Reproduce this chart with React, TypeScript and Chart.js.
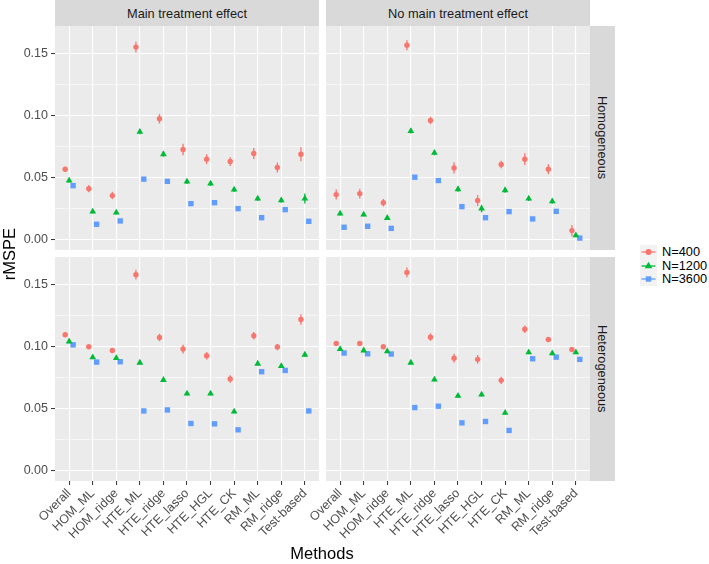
import React, { useEffect, useRef } from 'react';
import { Chart, registerables } from 'chart.js';

Chart.register(...registerables);

// ---------- data ----------
const methods = ['Overall', 'HOM_ML', 'HOM_ridge', 'HTE_ML', 'HTE_ridge', 'HTE_lasso', 'HTE_HGL', 'HTE_CK', 'RM_ML', 'RM_ridge', 'Test-based'];
const columnLabels = ['Main treatment effect', 'No main treatment effect'];
const rowLabels = ['Homogeneous', 'Heterogeneous'];
const seriesLabels = ['N=400', 'N=1200', 'N=3600'];
const yMajorTicks = [0, 0.05, 0.1, 0.15];
const yMinorTicks = [0.025, 0.075, 0.125];

// Main treatment effect / Homogeneous
const mainHom400 = [0.0567, 0.0411, 0.0355, 0.155, 0.0973, 0.0726, 0.0648, 0.0629, 0.0694, 0.0581, 0.0688];
const mainHom1200 = [0.0476, 0.0226, 0.0218, 0.0868, 0.0688, 0.0468, 0.0452, 0.0403, 0.0331, 0.0317, 0.0331];
const mainHom3600 = [0.0435, 0.0124, 0.0151, 0.0487, 0.047, 0.029, 0.0298, 0.025, 0.0177, 0.0242, 0.0148];
const mainHomErr400 = [0.002, 0.003, 0.003, 0.0043, 0.0038, 0.0046, 0.004, 0.0035, 0.0045, 0.004, 0.0056];
const mainHomErr1200 = [0.0015, 0.0015, 0.0015, 0.002, 0.002, 0.002, 0.002, 0.002, 0.002, 0.002, 0.004];
const mainHomErr3600 = [0.001, 0.001, 0.001, 0.001, 0.001, 0.001, 0.001, 0.001, 0.001, 0.001, 0.001];

// No main treatment effect / Homogeneous
const noMainHom400 = [0.0363, 0.0371, 0.0298, 0.1565, 0.096, 0.0578, 0.0315, 0.0605, 0.0648, 0.0567, 0.0073];
const noMainHom1200 = [0.021, 0.0202, 0.0175, 0.0874, 0.0699, 0.0406, 0.025, 0.0398, 0.0331, 0.0309, 0.0035];
const noMainHom3600 = [0.01, 0.0108, 0.0091, 0.0503, 0.0476, 0.0266, 0.0177, 0.0226, 0.0167, 0.0228, 0.0013];
const noMainHomErr400 = [0.004, 0.004, 0.003, 0.004, 0.003, 0.0045, 0.0045, 0.003, 0.0047, 0.004, 0.0045];
const noMainHomErr1200 = [0.0015, 0.0015, 0.0015, 0.002, 0.002, 0.002, 0.003, 0.002, 0.002, 0.002, 0.0015];
const noMainHomErr3600 = [0.001, 0.001, 0.001, 0.001, 0.001, 0.001, 0.001, 0.001, 0.001, 0.001, 0.001];

// Main treatment effect / Heterogeneous
const mainHet400 = [0.1094, 0.0997, 0.0968, 0.1578, 0.1072, 0.0979, 0.0925, 0.0738, 0.1086, 0.0995, 0.1217];
const mainHet1200 = [0.104, 0.0912, 0.0906, 0.0869, 0.073, 0.062, 0.062, 0.0476, 0.0861, 0.0842, 0.0933];
const mainHet3600 = [0.1013, 0.0874, 0.0877, 0.0481, 0.0489, 0.038, 0.0377, 0.0329, 0.0797, 0.0807, 0.0481];
const mainHetErr400 = [0.0015, 0.0015, 0.0015, 0.004, 0.003, 0.0035, 0.003, 0.003, 0.003, 0.0025, 0.0043];
const mainHetErr1200 = [0.0015, 0.0015, 0.0015, 0.0015, 0.0015, 0.0015, 0.0015, 0.0015, 0.0015, 0.0015, 0.0015];
const mainHetErr3600 = [0.001, 0.001, 0.001, 0.001, 0.001, 0.001, 0.001, 0.001, 0.001, 0.001, 0.001];

// No main treatment effect / Heterogeneous
const noMainHet400 = [0.1024, 0.1024, 0.0997, 0.1596, 0.1075, 0.0906, 0.0896, 0.0727, 0.1139, 0.1056, 0.0976];
const noMainHet1200 = [0.0979, 0.0968, 0.096, 0.0869, 0.0733, 0.0602, 0.0612, 0.0465, 0.0952, 0.0944, 0.0952];
const noMainHet3600 = [0.0947, 0.0941, 0.0939, 0.0508, 0.0519, 0.0385, 0.0396, 0.0324, 0.0901, 0.0914, 0.0896];
const noMainHetErr400 = [0.0015, 0.0015, 0.0015, 0.004, 0.003, 0.0035, 0.0035, 0.003, 0.003, 0.002, 0.0015];
const noMainHetErr1200 = [0.0015, 0.0015, 0.0015, 0.0015, 0.0015, 0.0015, 0.0015, 0.0015, 0.0015, 0.0015, 0.0015];
const noMainHetErr3600 = [0.001, 0.001, 0.001, 0.001, 0.001, 0.001, 0.001, 0.001, 0.001, 0.001, 0.001];

// ---------- styling ----------
const FONT = "'Liberation Sans', Arial, Helvetica, sans-serif";
const COLORS = ['#F8766D', '#00BA38', '#619CFF'];
const SHAPES = ['circle', 'triangle', 'rect'];
const RADII = [2.7, 3.9, 3.8];
const DODGE = [-0.167, 0, 0.167];
const Y_MIN = -0.0083;
const Y_MAX = 0.172;

const PANEL_W = 264;
const PANEL_H = 224;
const COL_X = [55, 326];
const ROW_Y = [26, 257];
const Y_AXIS_W = 55;
const X_AXIS_H = 75;
const RIGHT_PAD = 40;

const panelBgPlugin = {
  id: 'panelBg',
  beforeDraw(chart: any) {
    const { ctx, chartArea } = chart;
    ctx.save();
    ctx.fillStyle = '#EBEBEB';
    ctx.fillRect(chartArea.left, chartArea.top, chartArea.right - chartArea.left, chartArea.bottom - chartArea.top);
    ctx.restore();
  },
};

const errorBarPlugin = {
  id: 'errorBars',
  beforeDatasetDraw(chart: any, args: any) {
    const ds = chart.data.datasets[args.index];
    const yScale = chart.scales.y;
    const ctx = chart.ctx;
    ctx.save();
    ctx.strokeStyle = ds.borderColor;
    ctx.lineWidth = 1.3;
    args.meta.data.forEach((pt: any, i: number) => {
      const d = ds.data[i];
      ctx.beginPath();
      ctx.moveTo(pt.x, yScale.getPixelForValue(d.y - d.err));
      ctx.lineTo(pt.x, yScale.getPixelForValue(d.y + d.err));
      ctx.stroke();
    });
    ctx.restore();
  },
};

const isMajor = (v: number) => yMajorTicks.some((m) => Math.abs(m - v) < 1e-9);

type PanelProps = {
  values: number[][];
  errors: number[][];
  col: number;
  row: number;
};

function Panel({ values, errors, col, row }: PanelProps) {
  const ref = useRef<HTMLCanvasElement>(null);
  const showY = col === 0;
  const showX = row === 1;
  const padLeft = showY ? 0 : RIGHT_PAD;
  const left = COL_X[col] - (showY ? Y_AXIS_W : RIGHT_PAD);
  const top = ROW_Y[row];
  const width = PANEL_W + (showY ? Y_AXIS_W : RIGHT_PAD);
  const height = PANEL_H + (showX ? X_AXIS_H : 0);

  useEffect(() => {
    if (!ref.current) return;
    const datasets = values.map((vals, s) => ({
      label: seriesLabels[s],
      data: vals.map((v, i) => ({ x: i + DODGE[s], y: v, err: errors[s][i] })),
      pointStyle: SHAPES[s],
      pointRadius: RADII[s],
      backgroundColor: COLORS[s],
      borderColor: COLORS[s],
      borderWidth: 0,
      showLine: false,
    }));
    const tickFont = { family: FONT, size: 12.5 };
    const chart = new Chart(ref.current, {
      type: 'scatter',
      data: { datasets } as any,
      options: {
        animation: false,
        responsive: true,
        maintainAspectRatio: false,
        devicePixelRatio: 1,
        events: [],
        layout: { autoPadding: false, padding: { left: padLeft, right: 0, top: 0, bottom: 0 } },
        plugins: { legend: { display: false }, tooltip: { enabled: false } },
        scales: {
          x: {
            type: 'linear',
            min: -0.6,
            max: 10.6,
            afterBuildTicks: (s: any) => {
              s.ticks = methods.map((_, i) => ({ value: i }));
            },
            afterFit: (s: any) => {
              s.height = showX ? X_AXIS_H : 0;
              s.paddingLeft = 0;
              s.paddingRight = 0;
            },
            ticks: {
              display: showX,
              autoSkip: false,
              maxRotation: 45,
              minRotation: 45,
              padding: 1,
              color: '#4D4D4D',
              font: tickFont,
              callback: (_v: any, i: number) => methods[i],
            },
            grid: {
              color: '#FFFFFF',
              lineWidth: 1.1,
              drawTicks: showX,
              tickLength: 4,
              tickColor: '#333333',
              tickWidth: 1,
            },
            border: { display: false },
          },
          y: {
            type: 'linear',
            min: Y_MIN,
            max: Y_MAX,
            afterBuildTicks: (s: any) => {
              s.ticks = [...yMajorTicks, ...yMinorTicks].sort((a, b) => a - b).map((v) => ({ value: v }));
            },
            afterFit: (s: any) => {
              s.width = showY ? Y_AXIS_W : 0;
              s.paddingTop = 0;
              s.paddingBottom = 0;
            },
            ticks: {
              display: showY,
              padding: 3,
              color: '#4D4D4D',
              font: tickFont,
              callback: (v: any) => (isMajor(Number(v)) ? Number(v).toFixed(2) : ''),
            },
            grid: {
              color: '#FFFFFF',
              lineWidth: (c: any) => (isMajor(c.tick?.value) ? 1.1 : 0.55),
              drawTicks: showY,
              tickLength: 4,
              tickColor: (c: any) => (isMajor(c.tick?.value) ? '#333333' : 'rgba(0,0,0,0)'),
              tickWidth: 1,
            },
            border: { display: false },
          },
        },
      } as any,
      plugins: [panelBgPlugin, errorBarPlugin],
    });
    return () => chart.destroy();
  }, []);

  return (
    <div style={{ position: 'absolute', left, top, width, height }}>
      <canvas ref={ref} />
    </div>
  );
}

function LegendKey({ s }: { s: number }) {
  const c = COLORS[s];
  let marker: React.ReactNode;
  if (s === 0) marker = <circle cx={8.5} cy={7} r={3} fill={c} />;
  else if (s === 1) marker = <polygon points="8.5,2.8 12.3,9.3 4.7,9.3" fill={c} />;
  else marker = <rect x={5.8} y={4.3} width={5.4} height={5.4} fill={c} />;
  return (
    <svg width={17} height={14} style={{ display: 'block' }}>
      <rect x={0} y={0} width={17} height={14} fill="#F2F2F2" />
      <line x1={1.5} y1={7} x2={15.5} y2={7} stroke={c} strokeWidth={1.3} />
      {marker}
    </svg>
  );
}

export default function App() {
  const panels = [
    { col: 0, row: 0, values: [mainHom400, mainHom1200, mainHom3600], errors: [mainHomErr400, mainHomErr1200, mainHomErr3600] },
    { col: 1, row: 0, values: [noMainHom400, noMainHom1200, noMainHom3600], errors: [noMainHomErr400, noMainHomErr1200, noMainHomErr3600] },
    { col: 0, row: 1, values: [mainHet400, mainHet1200, mainHet3600], errors: [mainHetErr400, mainHetErr1200, mainHetErr3600] },
    { col: 1, row: 1, values: [noMainHet400, noMainHet1200, noMainHet3600], errors: [noMainHetErr400, noMainHetErr1200, noMainHetErr3600] },
  ];
  const stripText: React.CSSProperties = {
    position: 'absolute',
    background: '#D9D9D9',
    color: '#1A1A1A',
    fontFamily: FONT,
    fontSize: 12.8,
    display: 'flex',
    alignItems: 'center',
    justifyContent: 'center',
    whiteSpace: 'nowrap',
  };
  return (
    <div style={{ position: 'absolute', left: 0, top: 0, width: 709, height: 564, background: '#FFFFFF', overflow: 'hidden' }}>
      {panels.map((p, k) => (
        <Panel key={k} col={p.col} row={p.row} values={p.values} errors={p.errors} />
      ))}
      {columnLabels.map((t, c) => (
        <div key={'c' + c} style={{ ...stripText, left: COL_X[c], top: 0, width: PANEL_W, height: 26 }}>{t}</div>
      ))}
      {rowLabels.map((t, r) => (
        <div key={'r' + r} style={{ ...stripText, left: COL_X[1] + PANEL_W, top: ROW_Y[r], width: 25, height: PANEL_H }}>
          <span style={{ writingMode: 'vertical-rl' }}>{t}</span>
        </div>
      ))}
      <div style={{ position: 'absolute', left: 9 - 40, top: 254 - 10, width: 80, height: 20, transform: 'rotate(-90deg)', textAlign: 'center', fontFamily: FONT, fontSize: 16.5, lineHeight: '20px', color: '#000' }}>rMSPE</div>
      <div style={{ position: 'absolute', left: 272, top: 543, width: 100, height: 20, textAlign: 'center', fontFamily: FONT, fontSize: 16.5, lineHeight: '20px', color: '#000' }}>Methods</div>
      <div style={{ position: 'absolute', left: 640, top: 245 }}>
        {seriesLabels.map((l, s) => (
          <div key={l} style={{ display: 'flex', alignItems: 'center', height: 13.7 }}>
            <LegendKey s={s} />
            <span style={{ marginLeft: 5, fontFamily: FONT, fontSize: 12.8, color: '#000', lineHeight: '14px' }}>{l}</span>
          </div>
        ))}
      </div>
    </div>
  );
}
